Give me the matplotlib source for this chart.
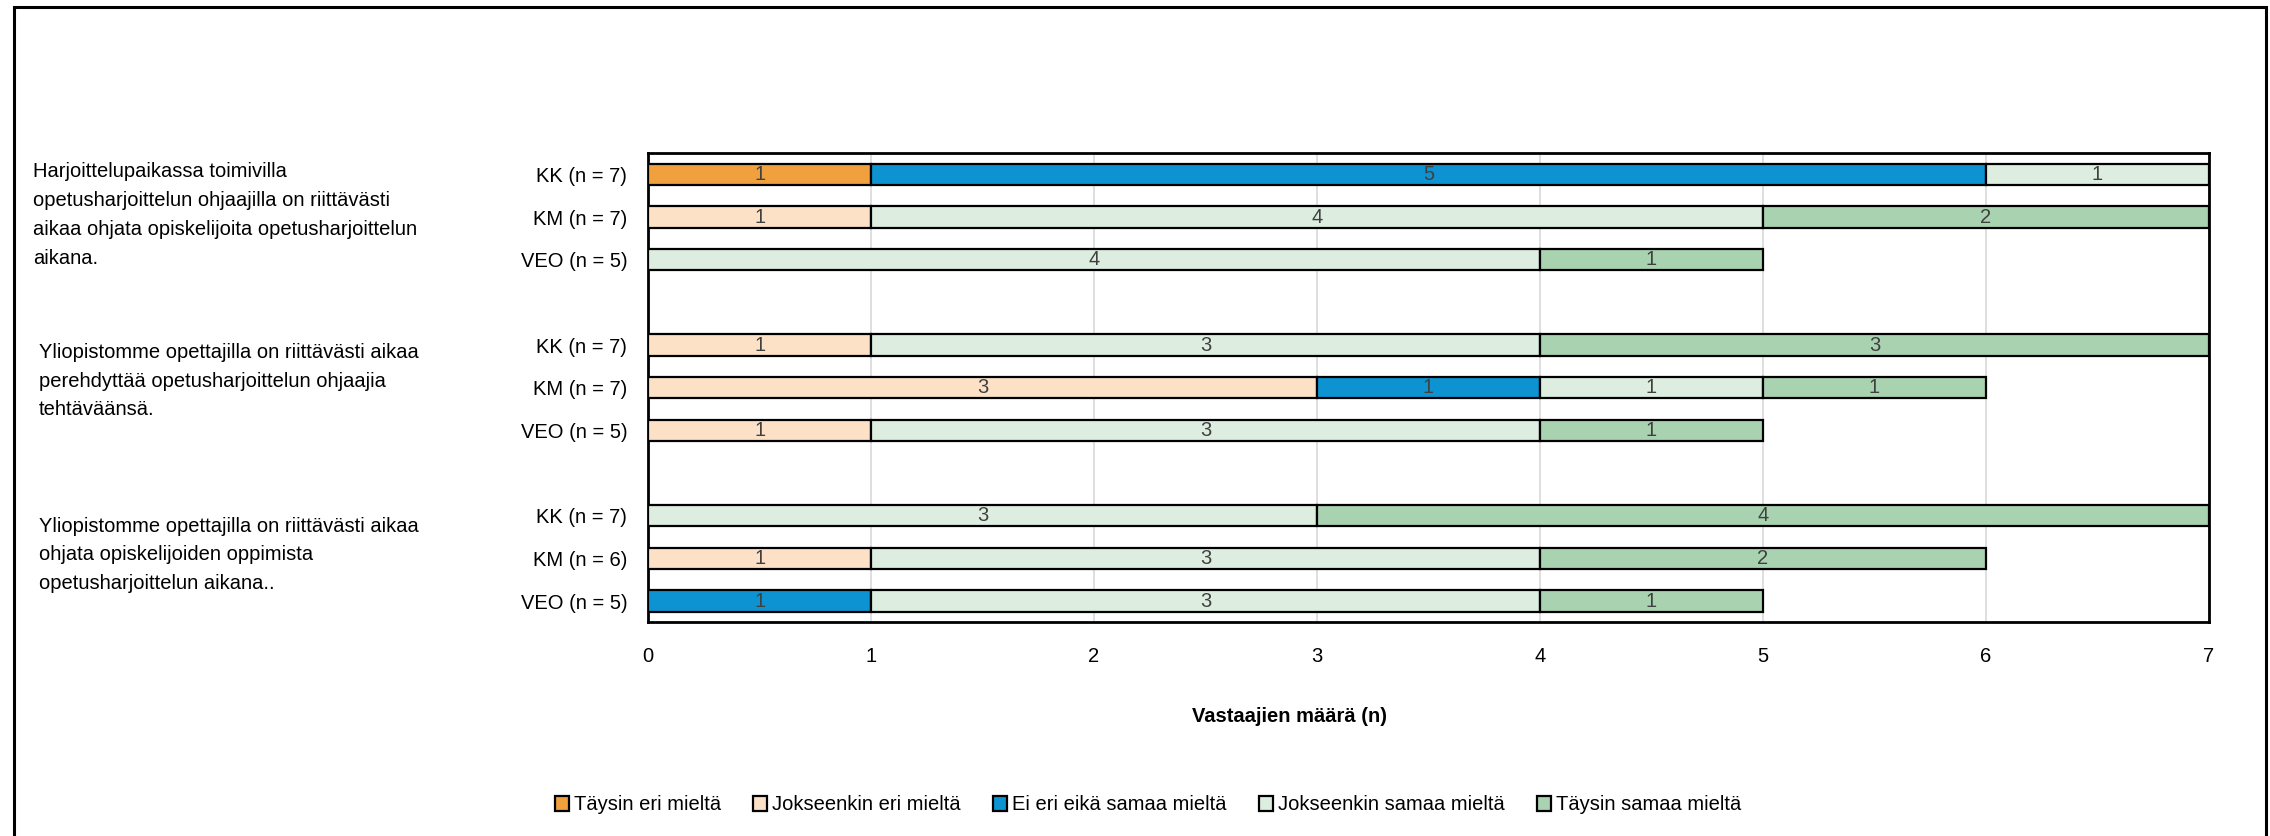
import matplotlib
matplotlib.use("Agg")
import matplotlib.pyplot as plt
from matplotlib.patches import Rectangle
import numpy as np

plt.rcParams["font.family"] = ["Liberation Sans", "DejaVu Sans"]
FS = 14.5

# data
categories = ["Täysin eri mieltä", "Jokseenkin eri mieltä", "Ei eri eikä samaa mieltä",
              "Jokseenkin samaa mieltä", "Täysin samaa mieltä"]
colors = ["#F0A03C", "#FCE1C6", "#0E93D2", "#DDEEE1", "#A8D2B0"]

groups = ["KK (n = 7)", "KM (n = 7)", "VEO (n = 5)",
          "KK (n = 7)", "KM (n = 7)", "VEO (n = 5)",
          "KK (n = 7)", "KM (n = 6)", "VEO (n = 5)"]

questions = [
    "Harjoittelupaikassa toimivilla\nopetusharjoittelun ohjaajilla on riittävästi\naikaa ohjata opiskelijoita opetusharjoittelun\naikana.",
    "Yliopistomme opettajilla on riittävästi aikaa\nperehdyttää opetusharjoittelun ohjaajia\ntehtäväänsä.",
    "Yliopistomme opettajilla on riittävästi aikaa\nohjata opiskelijoiden oppimista\nopetusharjoittelun aikana..",
]

taysin_eri = [1, 0, 0, 0, 0, 0, 0, 0, 0]
jokseenkin_eri = [0, 1, 0, 1, 3, 1, 0, 1, 0]
ei_eri_eika = [5, 0, 0, 0, 1, 0, 0, 0, 1]
jokseenkin_samaa = [1, 4, 4, 3, 1, 3, 3, 3, 3]
taysin_samaa = [0, 2, 1, 3, 1, 1, 4, 2, 1]
values = np.array([taysin_eri, jokseenkin_eri, ei_eri_eika, jokseenkin_samaa, taysin_samaa], float)

# rows: three per question, with a blank row between questions
ypos = np.array([0, 1, 2, 4, 5, 6, 8, 9, 10])

fig = plt.figure(figsize=(22.7, 8.36), dpi=100)
ax = fig.add_axes([0.2855, 0.2554, 0.9731 - 0.2855, 0.817 - 0.2554])

left = np.zeros(len(groups))
for k, (cat, col) in enumerate(zip(categories, colors)):
    w = values[k]
    mask = w > 0
    ax.barh(ypos[mask], w[mask], left=left[mask], height=0.5, color=col,
            edgecolor="black", linewidth=1.6, label=cat, zorder=3)
    for y, l, v in zip(ypos[mask], left[mask], w[mask]):
        ax.text(l + v / 2, y, f"{int(v)}", ha="center", va="center",
                fontsize=FS, color="#404040", zorder=4)
    left += w

ax.set_xlim(0, 7)
ax.set_ylim(10.5, -0.5)
ax.set_xticks(range(8))
ax.set_yticks(ypos)
ax.set_yticklabels(groups)
ax.tick_params(axis="both", length=0, labelsize=FS)
ax.tick_params(axis="x", pad=18)
ax.tick_params(axis="y", pad=15)
ax.grid(axis="x", color="#D9D9D9", linewidth=1.2, zorder=0)
ax.set_axisbelow(True)
for s in ax.spines.values():
    s.set_linewidth(2)
    s.set_color("black")

fig.text(1290 / 2270, 1 - 717 / 836, "Vastaajien määrä (n)", ha="center", va="center",
         fontsize=FS, fontweight="bold")

# question texts on the left
qx = [33, 39, 39]
qy = [215, 381, 555]
for q, x, y in zip(questions, qx, qy):
    fig.text(x / 2270, 1 - y / 836, q, ha="left", va="center", fontsize=FS, linespacing=1.66)

handles, labels = ax.get_legend_handles_labels()
fig.legend(handles, labels, loc="center", bbox_to_anchor=(1148 / 2270, 1 - 805 / 836),
           ncol=5, frameon=False, fontsize=FS, handlelength=0.7, handleheight=0.7,
           handletextpad=0.25, columnspacing=1.6)

# outer chart border (open at the bottom)
fig.patches.append(Rectangle((14 / 2270, -0.05), (2266 - 14) / 2270, 1.05 - 7 / 836,
                             transform=fig.transFigure, fill=False, edgecolor="black",
                             linewidth=2.2))

fig.savefig("out.png", dpi=100)
